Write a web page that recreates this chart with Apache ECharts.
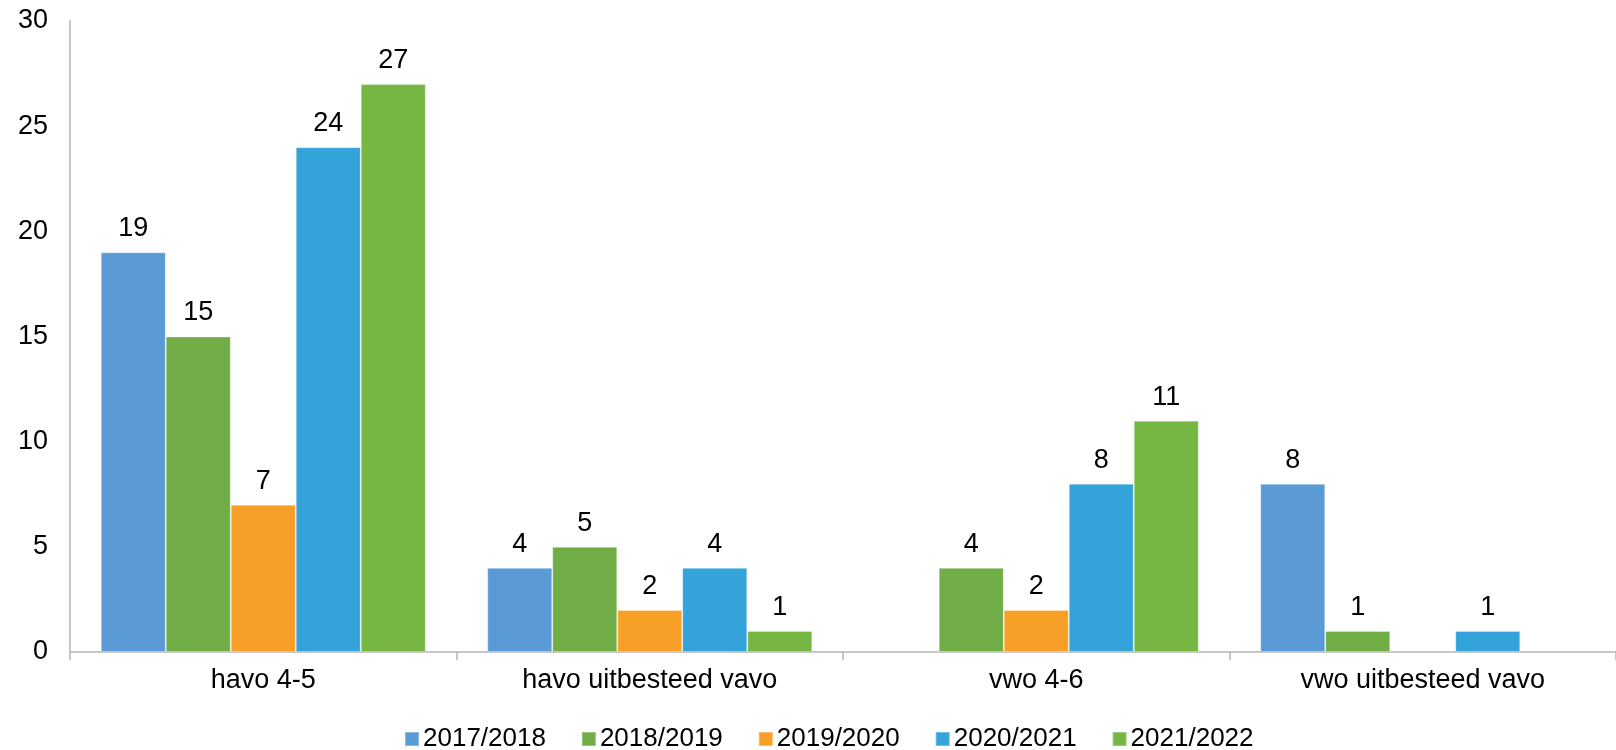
<!DOCTYPE html>
<html>
<head>
<meta charset="utf-8">
<script src="https://cdn.jsdelivr.net/npm/echarts@6/dist/echarts.min.js"></script>
<style>
html,body{margin:0;padding:0;background:#fff;}
#chart{width:1616px;height:750px;}
</style>
</head>
<body>
<div id="chart"></div>
<script>
const categories = ['havo 4-5', 'havo uitbesteed vavo', 'vwo 4-6', 'vwo uitbesteed vavo'];
const seriesNames = ['2017/2018', '2018/2019', '2019/2020', '2020/2021', '2021/2022'];
const s2017 = [19, 4, null, 8];
const s2018 = [15, 5, 4, 1];
const s2019 = [7, 2, 2, null];
const s2020 = [24, 4, 8, 1];
const s2021 = [27, 1, 11, null];
const yTicks = [0, 5, 10, 15, 20, 25, 30];

const colors = ['#5B9BD5', '#70AD47', '#F79F26', '#33A3DA', '#76B643'];
const allData = [s2017, s2018, s2019, s2020, s2021];
const FONT = 'Liberation Sans, Arial, sans-serif';
const FS = 27;

const chart = echarts.init(document.getElementById('chart'), null, {renderer: 'canvas'});
chart.setOption({
  animation: false,
  backgroundColor: '#ffffff',
  textStyle: {fontFamily: FONT},
  grid: {left: 70, top: 21, width: 1561, height: 631, containLabel: false},
  legend: {
    left: 399, top: 721,
    itemWidth: 14, itemHeight: 14, itemGap: 35,
    icon: 'rect',
    textStyle: {fontFamily: FONT, fontSize: 26, color: '#000', padding: [0, 0, 0, -1]},
    data: seriesNames
  },
  xAxis: {
    type: 'category',
    data: categories,
    axisLine: {lineStyle: {color: '#B5B5B5', width: 1.5}},
    axisTick: {show: true, length: 8, alignWithLabel: false, lineStyle: {color: '#B5B5B5', width: 1.5}},
    axisLabel: {fontFamily: FONT, fontSize: FS, color: '#000', margin: 15}
  },
  yAxis: {
    type: 'value',
    min: yTicks[0], max: yTicks[yTicks.length - 1], interval: 5,
    axisLine: {show: true, lineStyle: {color: '#B5B5B5', width: 1.5}},
    axisTick: {show: false},
    splitLine: {show: false},
    axisLabel: {fontFamily: FONT, fontSize: FS, color: '#000', margin: 22}
  },
  series: seriesNames.map((name, i) => ({
    name: name,
    type: 'bar',
    data: allData[i],
    barWidth: 65,
    barGap: '0%',
    itemStyle: {color: colors[i], borderColor: 'rgba(255,255,255,0.3)', borderWidth: 1},
    label: {
      show: true, position: 'top', distance: 10,
      fontFamily: FONT, fontSize: FS, color: '#000'
    }
  }))
});
</script>
</body>
</html>
